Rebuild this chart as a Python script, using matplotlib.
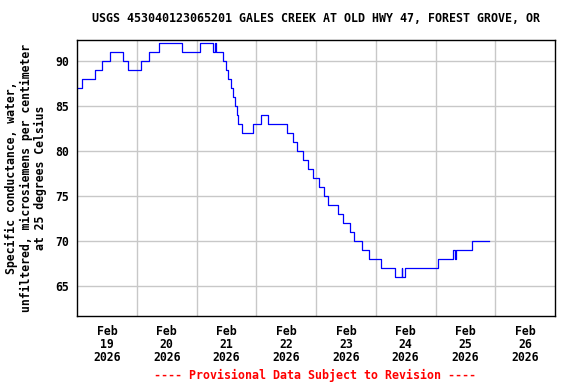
import numpy as np
import pandas as pd
import matplotlib
matplotlib.use('Agg')
import matplotlib.pyplot as plt
import matplotlib.dates as mdates

# change points: hours after 2026-02-18 12:00, value held until next point
hours = [0.0, 2.1, 7.2, 10.2, 13.3, 18.6, 20.3, 25.7, 29.1, 33.1, 42.2, 49.3, 54.5,
         55.5, 55.7, 58.8, 60.0, 60.8, 61.7, 62.5, 63.3, 64.1, 64.8, 66.2, 70.7,
         73.9, 76.9, 84.3, 86.7, 88.4, 90.8, 92.8, 94.8, 97.3, 99.1, 100.9, 104.9,
         106.8, 109.5, 111.1, 114.4, 117.2, 122.0, 127.7, 130.4, 130.7, 131.7,
         145.0, 151.0, 151.8, 152.4, 158.5, 165.3]
values = [87, 88, 89, 90, 91, 90, 89, 90, 91, 92, 91, 92, 91,
          92, 91, 90, 89, 88, 87, 86, 85, 84, 83, 82, 83,
          84, 83, 82, 81, 80, 79, 78, 77, 76, 75, 74, 73,
          72, 71, 70, 69, 68, 67, 66, 67, 66, 67,
          68, 69, 68, 69, 70, 70]

days = [19, 20, 21, 22, 23, 24, 25, 26]
yticks = [65, 70, 75, 80, 85, 90]

title = "USGS 453040123065201 GALES CREEK AT OLD HWY 47, FOREST GROVE, OR"
ylabel = "Specific conductance, water,\nunfiltered, microsiemens per centimeter\nat 25 degrees Celsius"
footer = "---- Provisional Data Subject to Revision ----"

start = pd.Timestamp("2026-02-18 12:00")
t = [start + pd.Timedelta(hours=h) for h in hours]

mono = 'DejaVu Sans Mono'
fig = plt.figure(figsize=(5.76, 3.84), dpi=100)
ax = fig.add_axes([77 / 576, 1 - 316 / 384, 478 / 576, 276 / 384])

ax.plot(t, values, drawstyle='steps-post', color='blue', linewidth=0.9)

ax.set_xlim(start, start + pd.Timedelta(days=8))
ax.set_ylim(61.67, 92.33)

# gridlines at noon, date labels at midnight
noons = [pd.Timestamp(f"2026-02-{d - 1} 12:00") for d in days[1:]]
ax.set_xticks(noons)
ax.set_xticklabels([])
mids = [pd.Timestamp(f"2026-02-{d}") for d in days]
ax.set_xticks(mids, minor=True)
ax.set_xticklabels([f"Feb\n{d}\n2026" for d in days], minor=True,
                   fontfamily=mono, fontweight='bold', fontsize=8.3, linespacing=1.0)
ax.set_yticks(yticks)
ax.set_yticklabels([str(v) for v in yticks], fontfamily=mono, fontweight='bold', fontsize=8.3)

ax.tick_params(axis='both', which='both', length=0)
ax.tick_params(axis='x', which='minor', pad=6.5)
ax.tick_params(axis='y', pad=5.5)
ax.grid(True, which='major', color='#c8c8c8', linewidth=1)
ax.set_axisbelow(True)
for s in ax.spines.values():
    s.set_color('black')
    s.set_linewidth(1)

fig.text(316 / 576, 1 - 19 / 384, title, ha='center', va='center',
         fontfamily=mono, fontweight='bold', fontsize=8.4)
fig.text(26 / 576, 1 - 178 / 384, ylabel, ha='center', va='center', rotation=90,
         fontfamily=mono, fontweight='bold', fontsize=8.3, linespacing=1.15)
fig.text(315 / 576, 1 - 375 / 384, footer, ha='center', va='center', color='red',
         fontfamily=mono, fontweight='bold', fontsize=8.4)

fig.savefig('out.png', dpi=100)
